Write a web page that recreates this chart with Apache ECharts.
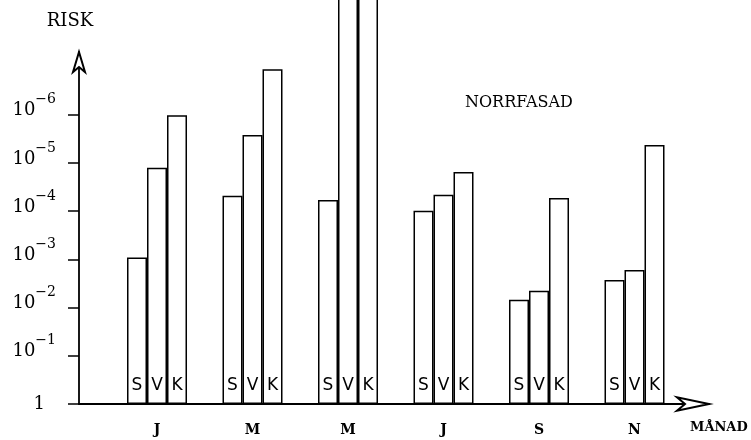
<!DOCTYPE html>
<html>
<head>
<meta charset="utf-8">
<title>NORRFASAD</title>
<script src="https://cdn.jsdelivr.net/npm/echarts@6/dist/echarts.min.js"></script>
<style>
  html, body { margin: 0; padding: 0; background: #fff; }
  #chart { width: 751px; height: 440px; }
</style>
</head>
<body>
<div id="chart"></div>
<script>
// month groups along the x axis
const months = ["J", "M", "M", "J", "S", "N"];
const monthPos = [1, 2, 3, 4, 5, 6];
const seriesNames = ["S", "V", "K"];
// bar heights as exponents (value n means risk 10^-n)
const sValues = [3.04, 4.32, 4.23, 4.01, 2.16, 2.57];
const vValues = [4.9, 5.58, 9, 4.34, 2.35, 2.78]; // 9 = runs off the top
const kValues = [5.99, 6.94, 9, 4.81, 4.27, 5.37];
// y tick labels: 1, 10^-1 ... 10^-6
const yTicks = [0, 1, 2, 3, 4, 5, 6];
const yTickBase = ["1", "10", "10", "10", "10", "10", "10"];
const yTickExp = ["", "−1", "−2", "−3", "−4", "−5", "−6"];

const chart = echarts.init(document.getElementById("chart"));

const serif = "DejaVu Serif";

function barSeries(name, values) {
  return {
    name: name,
    type: "bar",
    barWidth: 20,
    barGap: "0%",
    clip: false,
    data: monthPos.map((x, i) => [x, values[i]]),
    itemStyle: {
      color: "#fff",
      borderColor: "#000",
      borderWidth: 1.5,
    },
    label: {
      show: true,
      position: "insideBottom",
      distance: 10,
      formatter: name,
      color: "#000",
      fontFamily: "DejaVu Sans",
      fontSize: 17,
    },
    emphasis: { disabled: true },
  };
}

const option = {
  backgroundColor: "#fff",
  animation: false,
  title: {
    text: "NORRFASAD",
    left: 460,
    top: 90,
    textStyle: {
      fontFamily: serif,
      fontSize: 16,
      fontWeight: "normal",
      color: "#000",
    },
  },
  grid: {
    left: 79,
    top: 52,
    right: 42,
    bottom: 36,
    containLabel: false,
  },
  xAxis: {
    type: "value",
    min: 0.1832,
    max: 6.78,
    name: "MÅNAD",
    nameLocation: "end",
    nameGap: -19,
    nameTextStyle: {
      fontFamily: serif,
      fontSize: 13,
      fontWeight: "bold",
      color: "#000",
      verticalAlign: "top",
      padding: [17, 0, 0, 0],
    },
    axisLine: {
      show: true,
      symbol: ["none", "emptyArrow"],
      symbolSize: [10, 32],
      lineStyle: { color: "#000", width: 1.8 },
    },
    axisTick: { show: false },
    splitLine: { show: false },
    axisLabel: {
      customValues: monthPos,
      formatter: (v) => months[Math.round(v) - 1],
      margin: 19,
      fontFamily: serif,
      fontSize: 14,
      fontWeight: "bold",
      color: "#000",
    },
  },
  yAxis: {
    type: "value",
    min: 0,
    max: 7.3,
    name: "RISK",
    nameLocation: "end",
    nameGap: 22,
    nameTextStyle: {
      fontFamily: serif,
      fontSize: 18,
      color: "#000",
      align: "center",
      verticalAlign: "bottom",
      padding: [0, 18, 0, 0],
    },
    axisLine: {
      show: true,
      symbol: ["none", "emptyArrow"],
      symbolSize: [9, 20],
      lineStyle: { color: "#000", width: 1.8 },
    },
    axisTick: {
      show: true,
      customValues: yTicks,
      length: 11,
      lineStyle: { color: "#000", width: 1.5 },
    },
    splitLine: { show: false },
    axisLabel: {
      customValues: yTicks,
      margin: 23,
      color: "#000",
      formatter: (v) => {
        const i = yTicks.indexOf(Math.round(v));
        if (yTickExp[i] === "") return "{one|" + yTickBase[i] + "}";
        return "{b|" + yTickBase[i] + "}{e|" + yTickExp[i] + "}";
      },
      rich: {
        one: { fontFamily: serif, fontSize: 18, color: "#000", padding: [0, 11, 0, 0] },
        b: { fontFamily: serif, fontSize: 18, lineHeight: 18, color: "#000", padding: [0, 0, 8, 0] },
        e: { fontFamily: serif, fontSize: 14, lineHeight: 14, color: "#000", padding: [0, 0, 30, 0] },
      },
    },
  },
  series: [
    barSeries(seriesNames[0], sValues),
    barSeries(seriesNames[1], vValues),
    barSeries(seriesNames[2], kValues),
  ],
};

chart.setOption(option);
</script>
</body>
</html>
